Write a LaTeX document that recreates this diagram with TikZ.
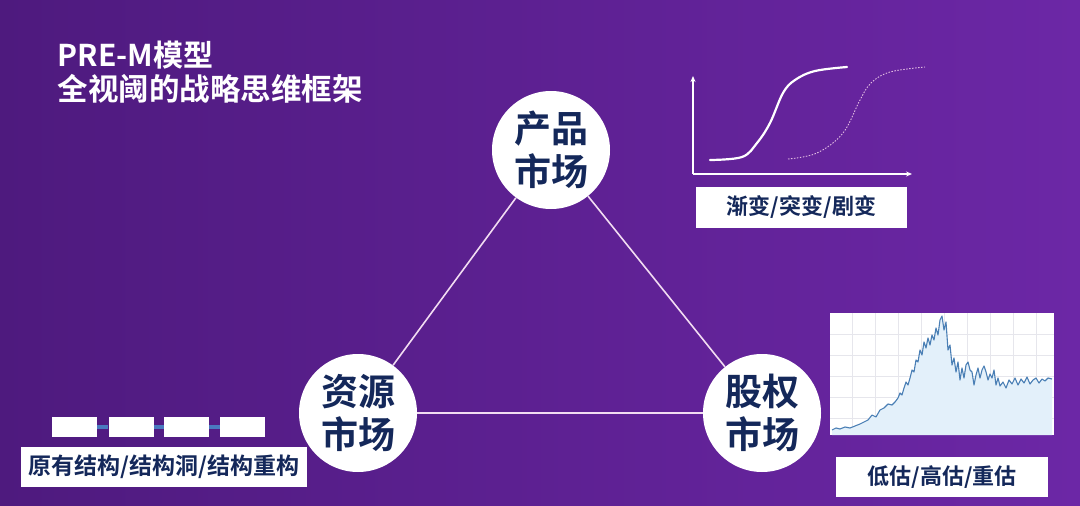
\documentclass[tikz,border=0pt]{standalone}
\usepackage{fontspec}
\setmainfont{Noto Sans CJK SC}[BoldFont={Noto Sans CJK SC Bold}]
\usetikzlibrary{arrows.meta}
\definecolor{navy}{HTML}{14285A}
\definecolor{bgL}{HTML}{4E1A7E}
\definecolor{bgR}{HTML}{6C27A6}
\definecolor{linkc}{HTML}{F2DCF2}
\definecolor{chartline}{HTML}{4A7FB5}
\definecolor{chartfill}{HTML}{E3F0FA}
\definecolor{gridc}{HTML}{E6E6EC}
\definecolor{barc}{HTML}{4A7AC0}
\tikzset{
  market/.style={circle,fill=white,minimum size=118pt,inner sep=0pt,font=\fontsize{37}{43}\selectfont\bfseries,text=navy,align=center},
  labelbox/.style={fill=white,inner sep=0pt,font=\fontsize{22}{26}\selectfont\bfseries,text=navy},
  link/.style={draw=linkc,line width=1.6pt},
  blockbox/.style={fill=white,minimum width=45pt,minimum height=20pt,inner sep=0pt},
}
\begin{document}
\begin{tikzpicture}[x=1pt,y=-1pt]
\useasboundingbox (0,0) rectangle (1080,506);
\shade[left color=bgL,right color=bgR] (0,0) rectangle (1080,506);
% title
\node[anchor=west,text=white,font=\fontsize{30}{34}\selectfont\bfseries] (t1) at (54,55) {PRE-M模型};
\node[anchor=west,text=white,font=\fontsize{30.5}{34}\selectfont\bfseries] (t2) at (54,89) {全视阈的战略思维框架};
% markets
\node[market] (prod) at (551,150) {产品\\市场};
\node[market] (res) at (358,413) {资源\\市场};
\node[market] (eq) at (762,413) {股权\\市场};
\draw[link] (prod) -- (res);
\draw[link] (prod) -- (eq);
\draw[link] (res) -- (eq);
% S-curve chart
\coordinate (ax0) at (693,174);
\coordinate (axY) at (693,76);
\coordinate (axX) at (912,174);
\draw[white,line width=1.5pt,-{Stealth[length=6pt,width=5pt]}] (ax0) -- (axY);
\draw[white,line width=1.5pt,-{Stealth[length=6pt,width=5pt]}] (ax0) -- (axX);
\draw[white,line width=2.2pt,line cap=round] plot[smooth,tension=0.6] coordinates {(710,160) (742,157) (757,143) (770,123) (783,93) (795,80) (815,71) (847,67)};
\draw[linkc!85!violet,line width=0.9pt,dash pattern=on 1.5pt off 1.5pt] plot[smooth,tension=0.6] coordinates {(788,159) (817,153) (843,133) (860,100) (871,83) (890,72) (925,67)};
\node[labelbox,minimum width=211pt,minimum height=41pt] (b1) at (801.5,207.5) {渐变/突变/剧变};
% stock chart
\fill[white] (830,313) rectangle (1054,435);
\foreach \gx in {852,875,898,921,944,967,990,1013,1036} \draw[gridc,line width=0.5pt] (\gx,313) -- (\gx,435);
\foreach \gy in {334,355,376,397,418} \draw[gridc,line width=0.5pt] (830,\gy) -- (1054,\gy);
\def\stockpts{(832,430) (836,428) (840,429) (845,427) (850,428) (855,426) (860,424) (864,422) (868,420) (872,415) (876,417) (880,410) (884,408) (888,404) (892,405) (895,402) (898,398) (900,393) (902,395) (904,388) (906,382) (908,385) (910,378) (912,370) (914,372) (916,360) (918,362) (920,350) (922,355) (924,342) (926,348) (928,338) (930,345) (932,335) (934,340) (936,328) (938,335) (940,320) (942,316) (944,330) (946,322) (948,350) (950,345) (952,365) (954,358) (956,372) (958,362) (960,380) (962,368) (964,378) (966,365) (968,362) (970,370) (972,372) (974,385) (976,375) (978,368) (980,378) (982,370) (984,366) (986,372) (988,380) (990,374) (992,378) (994,370) (996,385) (998,378) (1000,386) (1003,382) (1006,388) (1009,380) (1012,384) (1015,378) (1018,385) (1021,379) (1024,383) (1027,377) (1030,384) (1033,380) (1036,378) (1039,383) (1042,379) (1045,381) (1048,378) (1052,379)}
\fill[chartfill] (832,435) -- plot coordinates {\stockpts} -- (1052,435) -- cycle;
\draw[chartline,line width=1.1pt,line join=round] plot coordinates {\stockpts};
\node[labelbox,minimum width=212pt,minimum height=40pt] (b2) at (942,477) {低估/高估/重估};
% structure blocks
\node[blockbox] (k1) at (74.5,427) {};
\node[blockbox] (k2) at (131,427) {};
\node[blockbox] (k3) at (186.5,427) {};
\node[blockbox] (k4) at (242.5,427) {};
\draw[barc,line width=3.5pt] (k1) -- (k2);
\draw[barc,line width=3.5pt] (k2) -- (k3);
\draw[barc,line width=3.5pt] (k3) -- (k4);
\node[labelbox,minimum width=286pt,minimum height=40pt,font=\fontsize{23}{26}\selectfont\bfseries] (b3) at (164,467) {原有结构/结构洞/结构重构};
\end{tikzpicture}
\end{document}
